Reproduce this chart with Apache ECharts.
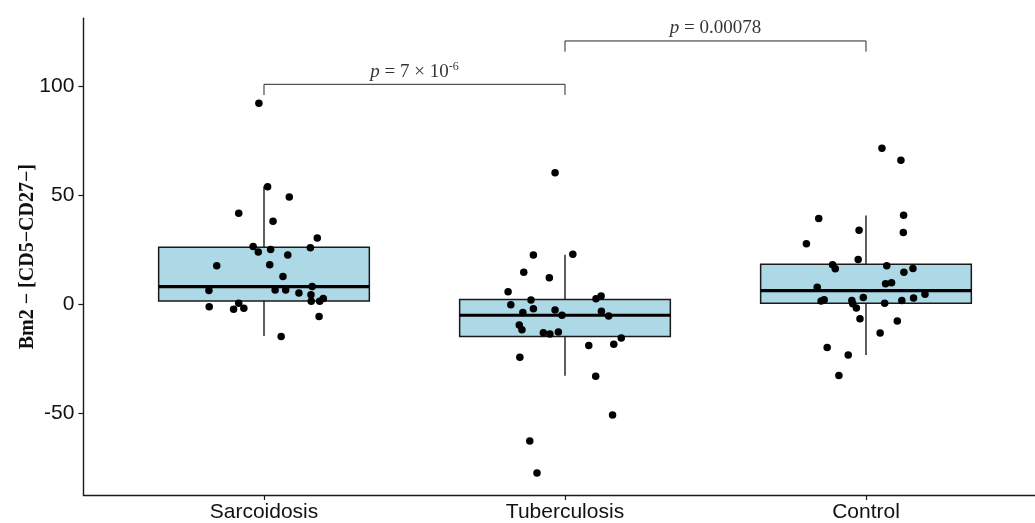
<!DOCTYPE html>
<html>
<head>
<meta charset="utf-8">
<title>Bm2 - CD5-CD27-</title>
<script src="https://cdn.jsdelivr.net/npm/echarts@6.0.0/dist/echarts.min.js"></script>
<style>
  html, body { margin: 0; padding: 0; background: #fff; }
  #chart { width: 1035px; height: 523px; }
</style>
</head>
<body>
<div id="chart"></div>
<script>
// groups on the x axis
var categories = ['Sarcoidosis', 'Tuberculosis', 'Control'];
var yTicks = [-50, 0, 50, 100];

// box stats per group: [lower whisker, Q1, median, Q3, upper whisker]
var sarcoidosisBox = [-14.5, 1.5, 8.1, 26.2, 54.2];
var tuberculosisBox = [-32.8, -14.7, -5.0, 2.2, 22.8];
var controlBox = [-23.2, 0.5, 6.3, 18.4, 40.8];

// jittered points: [horizontal jitter (in group units), value]
var sarcoidosisPts = [
  [-0.017, 92.3], [0.012, 54.0], [0.084, 49.3], [-0.084, 41.8], [0.030, 38.2],
  [0.177, 30.5], [-0.036, 26.6], [0.154, 26.0], [-0.019, 24.0], [0.022, 25.2],
  [0.079, 22.6], [-0.157, 17.7], [0.019, 18.2], [0.063, 12.8], [0.160, 8.2],
  [-0.183, 6.4], [0.037, 6.6], [0.072, 6.6], [0.116, 5.2], [0.156, 4.4],
  [0.157, 1.4], [0.197, 2.7], [0.185, 1.4], [-0.182, -1.1], [-0.084, 0.5],
  [-0.101, -2.3], [-0.067, -1.8], [0.183, -5.6], [0.057, -14.7]
];
var tuberculosisPts = [
  [-0.033, 60.4], [-0.105, 22.6], [0.026, 23.0], [-0.137, 14.7], [-0.052, 12.2],
  [-0.189, 5.8], [-0.113, 2.0], [-0.180, -0.2], [0.103, 2.6], [0.120, 3.8],
  [-0.140, -3.7], [-0.105, -2.0], [-0.033, -2.6], [-0.010, -5.0], [0.121, -3.2],
  [0.145, -5.3], [-0.152, -9.5], [-0.143, -11.6], [-0.072, -13.0], [-0.050, -13.6],
  [-0.022, -12.7], [0.187, -15.4], [0.162, -18.3], [0.079, -18.9], [-0.150, -24.3],
  [0.102, -33.0], [0.158, -50.8], [-0.117, -62.7], [-0.093, -77.4]
];
var controlPts = [
  [0.053, 71.7], [0.116, 66.1], [0.125, 40.9], [-0.157, 39.4], [-0.023, 34.0],
  [0.124, 33.0], [-0.198, 27.8], [-0.026, 20.6], [-0.111, 18.2], [-0.102, 16.3],
  [0.069, 17.7], [0.156, 16.5], [0.126, 14.7], [0.065, 9.5], [0.085, 9.9],
  [-0.162, 7.8], [0.196, 4.6], [0.158, 2.9], [0.119, 1.8], [-0.009, 3.2],
  [-0.139, 2.1], [-0.149, 1.5], [-0.047, 1.8], [-0.044, 0.3], [-0.032, -1.7],
  [0.062, 0.5], [-0.020, -6.6], [0.104, -7.6], [0.047, -13.1], [-0.129, -19.8],
  [-0.059, -23.2], [-0.090, -32.7]
];

// significance brackets: group pairs (1-based), bracket height, label
var bracketPairs = [[1, 2], [2, 3]];
var bracketHeights = [101.0, 120.9];
var bracketLabels = ['{i|p} = 7 × 10{s|-6}', '{i|p} = 0.00078'];

var BOX_HALF = 0.35;
var TICK_DROP = 4.9;
var LABEL_RISE = 5.8;

var boxes = [sarcoidosisBox, tuberculosisBox, controlBox];
var points = [sarcoidosisPts, tuberculosisPts, controlPts];

var boxData = boxes.map(function (b, i) { return [i + 1].concat(b); });
var pointData = [];
points.forEach(function (grp, i) {
  grp.forEach(function (p) { pointData.push([i + 1 + p[0], p[1]]); });
});

function renderBox(params, api) {
  var x = api.value(0);
  var lo = api.coord([x, api.value(1)]);
  var q1 = api.coord([x, api.value(2)]);
  var q3 = api.coord([x, api.value(4)]);
  var hi = api.coord([x, api.value(5)]);
  var l = api.coord([x - BOX_HALF, api.value(3)]);
  var r = api.coord([x + BOX_HALF, api.value(3)]);
  var ls = { stroke: '#1a1a1a', lineWidth: 1.4 };
  return {
    type: 'group',
    children: [
      { type: 'line', shape: { x1: lo[0], y1: lo[1], x2: q1[0], y2: q1[1] }, style: ls },
      { type: 'line', shape: { x1: q3[0], y1: q3[1], x2: hi[0], y2: hi[1] }, style: ls },
      { type: 'rect', shape: { x: l[0], y: q3[1], width: r[0] - l[0], height: q1[1] - q3[1] },
        style: { fill: '#ADD8E6', stroke: '#1a1a1a', lineWidth: 1.5 } },
      { type: 'line', shape: { x1: l[0], y1: l[1], x2: r[0], y2: r[1] },
        style: { stroke: '#000', lineWidth: 3.2 } }
    ]
  };
}

var series = [{
  type: 'custom',
  renderItem: renderBox,
  data: boxData,
  encode: { x: 0, y: [1, 2, 3, 4, 5] },
  z: 2
}, {
  type: 'scatter',
  data: pointData,
  symbolSize: 7.5,
  itemStyle: { color: '#000', opacity: 1 },
  z: 3
}];

bracketPairs.forEach(function (pair, i) {
  var h = bracketHeights[i];
  series.push({
    type: 'line',
    data: [[pair[0], h - TICK_DROP], [pair[0], h], [pair[1], h], [pair[1], h - TICK_DROP]],
    symbol: 'none',
    lineStyle: { color: '#2a2a2a', width: 1 },
    z: 3
  });
  series.push({
    type: 'scatter',
    data: [[(pair[0] + pair[1]) / 2, h + LABEL_RISE]],
    symbolSize: 0,
    label: {
      show: true,
      position: 'inside',
      formatter: bracketLabels[i],
      color: '#000',
      fontFamily: 'Liberation Serif',
      fontSize: 19,
      rich: {
        i: { fontStyle: 'italic', fontFamily: 'Liberation Serif', fontSize: 19, color: '#000' },
        s: { fontFamily: 'Liberation Serif', fontSize: 12, color: '#000', padding: [0, 0, 9, 0] }
      }
    },
    z: 4
  });
});

var chart = echarts.init(document.getElementById('chart'));
chart.setOption({
  animation: false,
  grid: { left: 83.4, right: 0, top: 18.3, bottom: 27 },
  xAxis: {
    type: 'value',
    min: 0.4,
    max: 3.5615,
    splitLine: { show: false },
    axisLine: { onZero: false, lineStyle: { color: '#1a1a1a', width: 1.4 } },
    axisTick: { show: true, length: 5, customValues: [1, 2, 3], lineStyle: { color: '#1a1a1a', width: 1.2 } },
    axisLabel: {
      customValues: [1, 2, 3],
      formatter: function (v) { return categories[Math.round(v) - 1]; },
      margin: 7,
      color: '#111',
      fontFamily: 'Liberation Sans',
      fontSize: 21
    }
  },
  yAxis: {
    type: 'value',
    min: -87.5,
    max: 131.3,
    splitLine: { show: false },
    name: 'Bm2 \u2212 [CD5\u2212CD27\u2212]',
    nameLocation: 'middle',
    nameRotate: 90,
    nameGap: 46,
    nameMoveOverlap: false,
    nameTextStyle: { fontFamily: 'Liberation Serif', fontSize: 20, fontWeight: 'bold', color: '#111' },
    axisLine: { show: true, onZero: false, lineStyle: { color: '#1a1a1a', width: 1.4 } },
    axisTick: { show: true, length: 5, customValues: yTicks, lineStyle: { color: '#1a1a1a', width: 1.2 } },
    axisLabel: {
      customValues: yTicks,
      margin: 9,
      color: '#111',
      fontFamily: 'Liberation Sans',
      fontSize: 21
    }
  },
  series: series
});
</script>
</body>
</html>
